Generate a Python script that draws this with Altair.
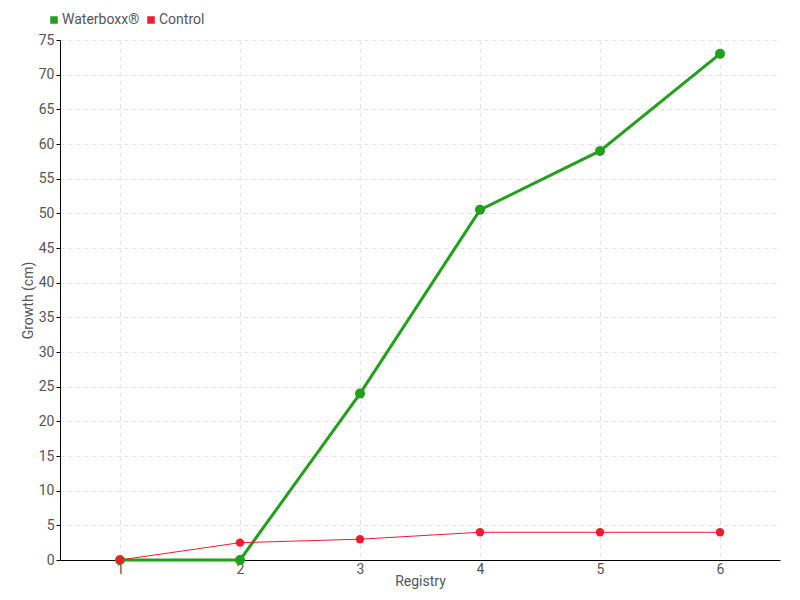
import altair as alt
import pandas as pd

registry = [1, 2, 3, 4, 5, 6]
waterboxx = [0, 0, 24, 50.5, 59, 73]
control = [0, 2.5, 3, 4, 4, 4]
series_names = ["Waterboxx®", "Control"]
colors = ["#22a01c", "#ee1c2e"]

rows = []
for r, v in zip(registry, waterboxx):
    rows.append({"Registry": r, "Growth": v, "Series": series_names[0]})
for r, v in zip(registry, control):
    rows.append({"Registry": r, "Growth": v, "Series": series_names[1]})
df = pd.DataFrame(rows)

FONT = "Roboto"

x = alt.X("Registry:Q", scale=alt.Scale(domain=[0.5, 6.5], nice=False, zero=False),
          axis=alt.Axis(values=registry, title="Registry", format="d", tickSize=0,
                        labelPadding=2, titleY=21, titleBaseline="middle",
                        gridDash=[4, 4], gridColor="#e0e0e0",
                        domainColor="#000", labelColor="#555", titleColor="#555",
                        labelFontSize=14, titleFontSize=14, titleFontWeight="normal",
                        labelFont=FONT, titleFont=FONT))
y = alt.Y("Growth:Q", scale=alt.Scale(domain=[0, 75], nice=False),
          axis=alt.Axis(values=list(range(0, 80, 5)), title="Growth (cm)", tickSize=4,
                        tickColor="#000", labelPadding=2, titleX=-32, titleBaseline="middle",
                        gridDash=[4, 4], gridColor="#e0e0e0",
                        domainColor="#000", labelColor="#555", titleColor="#555",
                        labelFontSize=14, titleFontSize=14, titleFontWeight="normal",
                        labelFont=FONT, titleFont=FONT))
color = alt.Color("Series:N", scale=alt.Scale(domain=series_names, range=colors),
                  legend=alt.Legend(orient="none", legendX=-13, legendY=-27, direction="horizontal",
                                    title=None, symbolType="square", symbolSize=36,
                                    labelFontSize=14, labelColor="#555", labelFont=FONT,
                                    columnPadding=4, symbolOffset=0, labelOffset=1))

line_w = alt.Chart(df[df.Series == series_names[0]]).mark_line(strokeWidth=3).encode(x=x, y=y, color=color)
pts_w = alt.Chart(df[df.Series == series_names[0]]).mark_circle(size=100, opacity=1).encode(x=x, y=y, color=color)
line_c = alt.Chart(df[df.Series == series_names[1]]).mark_line(strokeWidth=1).encode(x=x, y=y, color=color)
pts_c = alt.Chart(df[df.Series == series_names[1]]).mark_circle(size=70, opacity=1).encode(x=x, y=y, color=color)

chart = alt.layer(line_w, pts_w, line_c, pts_c).properties(
    width=720, height=520,
    autosize=alt.AutoSizeParams(type="none"),
    padding={"left": 52, "top": 32, "right": 12, "bottom": 32},
).configure_view(stroke=None)

chart.save("out.html", embed_options={"renderer": "svg", "actions": False})
